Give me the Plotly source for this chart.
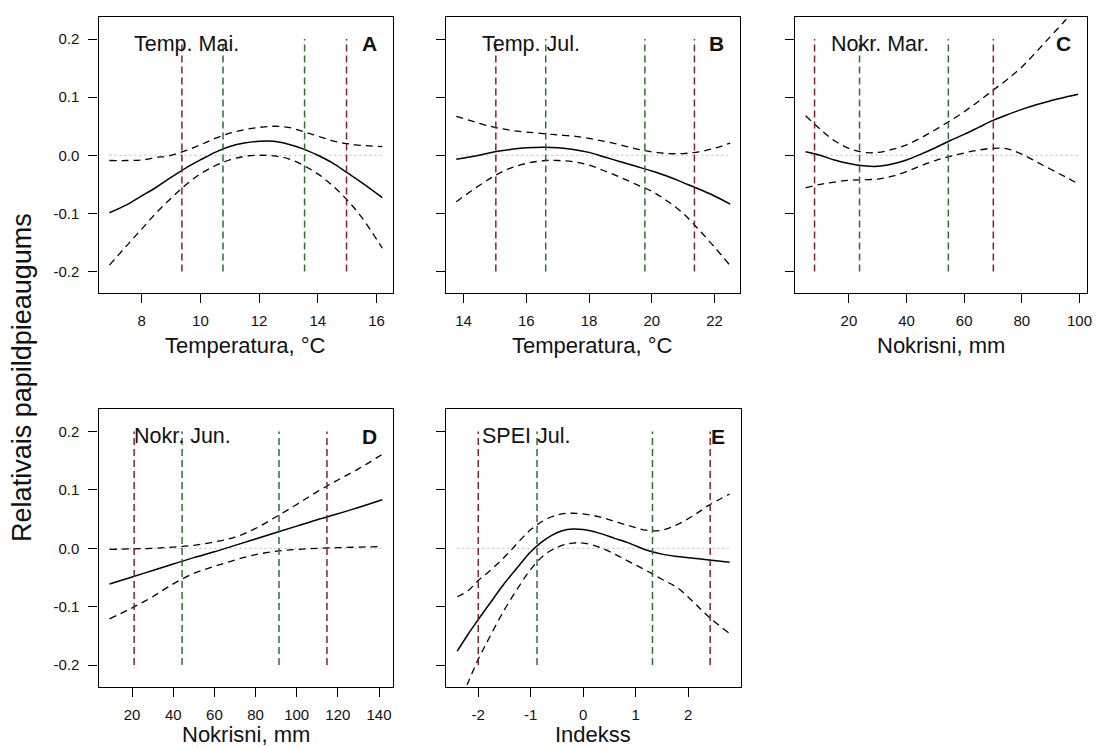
import plotly.graph_objects as go

# ---------------- data ----------------
# Panel A: Temp. Mai.
a_x = [6.9, 7.5, 8, 8.5, 9, 9.5, 10, 10.5, 11, 11.5, 12, 12.5, 13, 13.5, 14, 14.5, 15, 15.5, 16.2]
a_fit = [-0.099, -0.085, -0.07, -0.055, -0.038, -0.022, -0.008, 0.005, 0.015, 0.021, 0.024, 0.024, 0.019, 0.011, 0.0, -0.013, -0.03, -0.047, -0.073]
a_upper = [-0.009, -0.009, -0.008, -0.004, 0.0, 0.008, 0.018, 0.029, 0.038, 0.044, 0.048, 0.05, 0.048, 0.041, 0.033, 0.025, 0.02, 0.017, 0.015]
a_lower = [-0.189, -0.155, -0.127, -0.099, -0.074, -0.051, -0.032, -0.018, -0.008, -0.002, 0.0, -0.001, -0.006, -0.017, -0.032, -0.052, -0.077, -0.107, -0.16]
a_red = [9.37, 14.98]
a_green = [10.77, 13.55]

# Panel B: Temp. Jul.
b_x = [13.77, 14.5, 15, 15.5, 16, 16.6, 17, 17.5, 18, 18.5, 19, 19.5, 20, 20.5, 21, 21.5, 22, 22.5]
b_fit = [-0.007, 0.0, 0.006, 0.01, 0.013, 0.014, 0.013, 0.01, 0.005, -0.003, -0.011, -0.019, -0.027, -0.036, -0.047, -0.058, -0.07, -0.084]
b_upper = [0.067, 0.055, 0.048, 0.043, 0.04, 0.037, 0.035, 0.033, 0.029, 0.024, 0.018, 0.011, 0.006, 0.003, 0.003, 0.006, 0.012, 0.021]
b_lower = [-0.08, -0.052, -0.035, -0.022, -0.014, -0.009, -0.009, -0.011, -0.017, -0.027, -0.038, -0.05, -0.062, -0.079, -0.1, -0.128, -0.158, -0.19]
b_red = [15.03, 21.36]
b_green = [16.62, 19.78]

# Panel C: Nokr. Mar.
c_x = [5, 10, 15, 20, 25, 30, 35, 40, 45, 50, 55, 60, 65, 70, 75, 80, 85, 90, 95, 99.5]
c_fit = [0.006, 0.0, -0.008, -0.014, -0.018, -0.019, -0.015, -0.008, 0.002, 0.013, 0.025, 0.036, 0.048, 0.06, 0.07, 0.079, 0.087, 0.094, 0.1, 0.105]
c_upper = [0.068, 0.045, 0.025, 0.012, 0.005, 0.005, 0.01, 0.018, 0.03, 0.044, 0.059, 0.075, 0.093, 0.112, 0.131, 0.152, 0.178, 0.205, 0.232, 0.26]
c_lower = [-0.056, -0.05, -0.046, -0.043, -0.042, -0.041, -0.036, -0.028, -0.018, -0.009, -0.002, 0.004, 0.009, 0.012, 0.011, 0.002, -0.011, -0.024, -0.037, -0.049]
c_red = [8.1, 70.1]
c_green = [23.7, 54.5]

# Panel D: Nokr. Jun.
d_x = [9, 20, 30, 40, 50, 60, 70, 80, 90, 100, 110, 120, 130, 141.6]
d_fit = [-0.061, -0.049, -0.038, -0.027, -0.016, -0.006, 0.005, 0.016, 0.027, 0.038, 0.049, 0.059, 0.07, 0.083]
d_upper = [-0.002, -0.001, 0.0, 0.002, 0.005, 0.011, 0.019, 0.034, 0.054, 0.075, 0.097, 0.117, 0.136, 0.161]
d_lower = [-0.121, -0.102, -0.083, -0.061, -0.043, -0.031, -0.02, -0.011, -0.005, -0.002, 0.0, 0.001, 0.002, 0.003]
d_red = [21.0, 114.7]
d_green = [44.3, 91.4]

# Panel E: SPEI Jul.
e_x = [-2.4, -2.2, -2, -1.8, -1.5, -1.2, -1, -0.8, -0.6, -0.4, -0.2, 0, 0.3, 0.6, 0.9, 1.2, 1.5, 1.8, 2.1, 2.4, 2.79]
e_fit = [-0.176, -0.148, -0.122, -0.097, -0.06, -0.027, -0.006, 0.01, 0.022, 0.03, 0.033, 0.032, 0.026, 0.017, 0.008, -0.003, -0.01, -0.014, -0.017, -0.02, -0.024]
e_upper = [-0.083, -0.073, -0.055, -0.04, -0.015, 0.014, 0.032, 0.045, 0.054, 0.059, 0.06, 0.059, 0.054, 0.046, 0.038, 0.031, 0.031, 0.041, 0.056, 0.074, 0.093]
e_lower = [-0.272, -0.231, -0.19, -0.155, -0.105, -0.062, -0.036, -0.016, -0.003, 0.005, 0.009, 0.009, 0.002, -0.01, -0.024, -0.038, -0.053, -0.068, -0.092, -0.118, -0.146]
e_red = [-2.0, 2.42]
e_green = [-0.88, 1.32]

panel_labels = ["Temp. Mai.", "Temp. Jul.", "Nokr. Mar.", "Nokr. Jun.", "SPEI Jul."]
panel_letters = ["A", "B", "C", "D", "E"]
x_titles = ["Temperatura, °C", "Temperatura, °C", "Nokrisni, mm", "Nokrisni, mm", "Indekss"]
x_ticks = [[8, 10, 12, 14, 16], [14, 16, 18, 20, 22], [20, 40, 60, 80, 100],
           [20, 40, 60, 80, 100, 120, 140], [-2, -1, 0, 1, 2]]
x_ticktext = [["8", "10", "12", "14", "16"], ["14", "16", "18", "20", "22"],
              ["20", "40", "60", "80", "100"],
              ["20", "40", "60", "80", "100", "120", "140"], ["-2", "-1", "0", "1", "2"]]
y_ticks = [-0.2, -0.1, 0.0, 0.1, 0.2]
y_ticktext = ["-0.2", "-0.1", "0.0", "0.1", "0.2"]
y_title = "Relativais papildpieaugums"

# ---------------- layout geometry (pixels) ----------------
W, H = 1099, 747
x_ranges = [[6.53, 16.57], [13.45, 22.8], [1.2, 102.6], [3.7, 146.9], [-2.61, 3.0]]
y_range = [-0.237, 0.238]
cols_px = [(99, 395), (448.3, 743), (798.3, 1092), (99, 395), (448.3, 744)]
rows_px = [(17, 293), (17, 293), (17, 293), (409.3, 686.7), (409.3, 686.7)]

panels = [
    (a_x, a_fit, a_upper, a_lower, a_red, a_green),
    (b_x, b_fit, b_upper, b_lower, b_red, b_green),
    (c_x, c_fit, c_upper, c_lower, c_red, c_green),
    (d_x, d_fit, d_upper, d_lower, d_red, d_green),
    (e_x, e_fit, e_upper, e_lower, e_red, e_green),
]

FONT = "Liberation Sans, Arial, Helvetica, sans-serif"
RED = "#7e2424"
GREEN = "#2a7030"
TXT = "#111111"

fig = go.Figure()
layout = dict(
    width=W, height=H, margin=dict(l=0, r=0, t=0, b=0),
    paper_bgcolor="white", plot_bgcolor="white", showlegend=False,
    font=dict(family=FONT, color=TXT),
)
annotations = []

for i, (xs, fit, up, lo, reds, greens) in enumerate(panels):
    n = i + 1
    xa = "x" if n == 1 else f"x{n}"
    ya = "y" if n == 1 else f"y{n}"
    xkey = "xaxis" if n == 1 else f"xaxis{n}"
    ykey = "yaxis" if n == 1 else f"yaxis{n}"

    # zero reference line
    fig.add_trace(go.Scatter(x=[xs[0], xs[-1]], y=[0, 0], mode="lines", xaxis=xa, yaxis=ya,
                             line=dict(color="#c8c8c8", width=1.3, dash="2px,3px"), hoverinfo="skip"))
    # confidence bands
    for band in (up, lo):
        fig.add_trace(go.Scatter(x=xs, y=band, mode="lines", xaxis=xa, yaxis=ya,
                                 line=dict(color="black", width=1.3, dash="7px,5px", shape="spline"),
                                 hoverinfo="skip"))
    # fit
    fig.add_trace(go.Scatter(x=xs, y=fit, mode="lines", xaxis=xa, yaxis=ya,
                             line=dict(color="black", width=1.5, shape="spline"), hoverinfo="skip"))
    # vertical quantile lines
    for vx, col in [(v, RED) for v in reds] + [(v, GREEN) for v in greens]:
        fig.add_trace(go.Scatter(x=[vx, vx], y=[y_ticks[0], y_ticks[-1]], mode="lines",
                                 xaxis=xa, yaxis=ya,
                                 line=dict(color=col, width=1.5, dash="7px,4px"), hoverinfo="skip"))

    x0, x1 = cols_px[i]
    ytop, ybot = rows_px[i]
    layout[xkey] = dict(
        domain=[x0 / W, x1 / W], range=x_ranges[i], anchor=ya,
        showgrid=False, zeroline=False, showline=True, mirror=True,
        linecolor="black", linewidth=1.3,
        ticks="outside", ticklen=9, tickwidth=1.3, tickcolor="black",
        tickmode="array", tickvals=x_ticks[i], ticktext=x_ticktext[i],
        tickfont=dict(size=15, family=FONT, color=TXT), ticklabelstandoff=5,
    )
    layout[ykey] = dict(
        domain=[1 - ybot / H, 1 - ytop / H], range=y_range, anchor=xa,
        showgrid=False, zeroline=False, showline=True, mirror=True,
        linecolor="black", linewidth=1.3,
        ticks="outside", ticklen=9, tickwidth=1.3, tickcolor="black",
        tickmode="array", tickvals=y_ticks,
        ticktext=y_ticktext if i in (0, 3) else [""] * 5,
        showticklabels=i in (0, 3),
        tickfont=dict(size=15, family=FONT, color=TXT), ticklabelstandoff=6,
    )
    # panel label (top-left) and letter (top-right)
    annotations.append(dict(x=(x0 + 34) / W, y=1 - (ytop + 27) / H, xref="paper", yref="paper",
                            text=panel_labels[i], showarrow=False, xanchor="left", yanchor="middle",
                            font=dict(size=21.5, family=FONT, color=TXT)))
    annotations.append(dict(x=(x1 - 14) / W, y=1 - (ytop + 27) / H, xref="paper", yref="paper",
                            text=f"<b>{panel_letters[i]}</b>", showarrow=False, xanchor="right",
                            yanchor="middle", font=dict(size=21, family=FONT, color=TXT)))
    # x title
    ty = min(ybot + 52, 734)
    annotations.append(dict(x=(x0 + x1) / 2 / W, y=1 - ty / H, xref="paper", yref="paper",
                            text=x_titles[i], showarrow=False, xanchor="center", yanchor="middle",
                            font=dict(size=22, family=FONT, color=TXT)))

annotations.append(dict(x=22 / W, y=1 - 377 / H, xref="paper", yref="paper", text=y_title,
                        showarrow=False, textangle=-90, xanchor="center", yanchor="middle",
                        font=dict(size=27, family=FONT, color=TXT)))
layout["annotations"] = annotations
fig.update_layout(**layout)

fig.write_html("out.html", config={"displayModeBar": False},
               post_script="document.body.style.margin='0';")
